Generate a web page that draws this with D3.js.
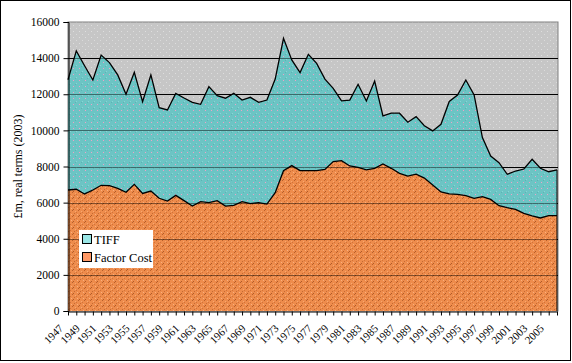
<!DOCTYPE html>
<html>
<head>
<meta charset="utf-8">
<script src="https://d3js.org/d3.v7.min.js"></script>
<style>
  body { margin: 0; background: #fff; }
  text { font-family: "Liberation Serif", "Times New Roman", serif; }
</style>
</head>
<body>
<svg id="chart" width="572" height="363"></svg>
<script>
// years 1947..2006
var years = d3.range(1947, 2007);
var factorCost = [6700, 6740, 6480, 6700, 6960, 6940, 6790, 6570, 7010, 6510,
                  6640, 6240, 6090, 6400, 6110, 5810, 6050, 6000, 6110, 5810,
                  5850, 6050, 5940, 6000, 5920, 6550, 7770, 8050, 7770, 7770,
                  7770, 7840, 8270, 8320, 8030, 7950, 7810, 7900, 8140, 7900,
                  7620, 7470, 7580, 7360, 6980, 6590, 6490, 6460, 6390, 6240,
                  6330, 6180, 5830, 5720, 5630, 5410, 5260, 5150, 5280, 5280];
var tiff = [6100, 7660, 7100, 6090, 7210, 6810, 6280, 5430, 6200, 5080,
            6430, 5020, 5040, 5650, 5680, 5740, 5390, 6420, 5810, 5970,
            6200, 5630, 5890, 5550, 5760, 6290, 7330, 5850, 5430, 6440,
            5940, 5000, 4060, 3310, 3650, 4600, 3820, 4830, 2660, 3050,
            3330, 2980, 3180, 2900, 2990, 3750, 5110, 5500, 6400, 5720,
            3270, 2400, 2380, 1850, 2120, 2450, 3140, 2750, 2430, 2530];
var yTicks = [0, 2000, 4000, 6000, 8000, 10000, 12000, 14000, 16000];
var xLabels = d3.range(1947, 2007, 2);
var seriesNames = ["Factor Cost", "TIFF"];

var svg = d3.select("#chart");
var pLeft = 68, pRight = 558, pTop = 22, pBottom = 311;

// fill textures
var defs = svg.append("defs");
function pattern(id, base, dots) {
  var p = defs.append("pattern").attr("id", id)
    .attr("width", 6).attr("height", 6).attr("patternUnits", "userSpaceOnUse");
  p.append("rect").attr("width", 6).attr("height", 6).attr("fill", base);
  dots.forEach(function(d) {
    p.append("rect").attr("x", d[0]).attr("y", d[1]).attr("width", 1).attr("height", 1).attr("fill", d[2]);
  });
}
pattern("pGray", "#c6c6c6", [[1, 1, "#dedede"], [4, 4, "#dadada"]]);
pattern("pTeal", "#6cc4c4", [[1, 2, "#f0a0c8"], [4, 5, "#88d6d6"], [3, 0, "#5bb4b4"]]);
pattern("pOrange", "#ee8c4c", [[0, 0, "#b8602c"], [3, 1, "#f6a872"], [2, 3, "#c46a34"],
                              [5, 4, "#f8b080"], [1, 5, "#b05a28"], [4, 2, "#d27238"]]);

var x = d3.scaleLinear().domain([1947, 2006]).range([pLeft, 557]);
var y = d3.scaleLinear().domain([0, 16000]).range([pBottom, pTop]);

// outer frame
svg.append("rect").attr("x", 0.5).attr("y", 0.5).attr("width", 570).attr("height", 360)
  .attr("fill", "#fff").attr("stroke", "#000");

// plot area
svg.append("rect").attr("x", pLeft).attr("y", pTop).attr("width", pRight - pLeft).attr("height", pBottom - pTop)
  .attr("fill", "url(#pGray)").attr("stroke", "#808080");

function grid(op) {
  svg.append("g").selectAll("line").data(yTicks.slice(1, -1)).enter().append("line")
    .attr("x1", pLeft).attr("x2", pRight)
    .attr("y1", function(d) { return Math.round(y(d)) + 0.5; })
    .attr("y2", function(d) { return Math.round(y(d)) + 0.5; })
    .attr("stroke", "#000").attr("stroke-opacity", op);
}
grid(1);

var rows = years.map(function(yr, i) { return { year: yr, "Factor Cost": factorCost[i], "TIFF": tiff[i] }; });
var stacked = d3.stack().keys(seriesNames)(rows);

var area = d3.area()
  .x(function(d) { return x(d.data.year); })
  .y0(function(d) { return y(d[0]); })
  .y1(function(d) { return y(d[1]); });
var topLine = d3.line()
  .x(function(d) { return x(d.data.year); })
  .y(function(d) { return y(d[1]); });

var fills = { "Factor Cost": "url(#pOrange)", "TIFF": "url(#pTeal)" };
svg.append("g").selectAll("path").data(stacked).enter().append("path")
  .attr("d", area).attr("fill", function(d) { return fills[d.key]; });

grid(0.45);

svg.append("g").selectAll("path").data(stacked).enter().append("path")
  .attr("d", topLine).attr("fill", "none").attr("stroke", "#000").attr("stroke-width", 1.3);
// close the right edge of the stacked areas
svg.append("line").attr("x1", x(2006)).attr("x2", x(2006))
  .attr("y1", y(0)).attr("y2", y(factorCost[59] + tiff[59])).attr("stroke", "#000");

// y axis
var yAxis = d3.axisLeft(y).tickValues(yTicks).tickFormat(d3.format("d")).tickSize(5).tickPadding(4);
var gy = svg.append("g").attr("transform", "translate(" + (pLeft + 0.5) + ",0)").call(yAxis);
gy.attr("font-family", null);
gy.select(".domain").attr("stroke", "#000");
gy.selectAll("text").attr("font-size", 11.5).attr("fill", "#000");

// x axis
var xAxis = d3.axisBottom(x).tickValues(years).tickSize(4).tickSizeOuter(0).tickFormat("");
var gx = svg.append("g").attr("transform", "translate(0," + (pBottom + 0.5) + ")").call(xAxis);
gx.select(".domain").attr("stroke", "#000");

svg.append("g").selectAll("text").data(xLabels).enter().append("text")
  .attr("transform", function(d) { return "translate(" + (x(d) - 4) + "," + (pBottom + 18) + ") rotate(-45)"; })
  .attr("text-anchor", "end").attr("font-size", 11).text(function(d) { return d; });

// y title
svg.append("text").attr("transform", "translate(22," + ((pTop + pBottom) / 2) + ") rotate(-90)")
  .attr("text-anchor", "middle").attr("font-size", 12).text("£m, real terms (2003)");

// legend
var lg = svg.append("g").attr("transform", "translate(79,230)");
lg.append("rect").attr("width", 74).attr("height", 38).attr("fill", "#fff");
var legendItems = [["TIFF", "#99e6e6"], ["Factor Cost", "#ff9966"]];
legendItems.forEach(function(it, i) {
  lg.append("rect").attr("x", 3.5).attr("y", 4.5 + i * 18).attr("width", 9).attr("height", 9)
    .attr("fill", it[1]).attr("stroke", "#000");
  lg.append("text").attr("x", 15).attr("y", 13.5 + i * 18).attr("font-size", 12.5).text(it[0]);
});
</script>
</body>
</html>
